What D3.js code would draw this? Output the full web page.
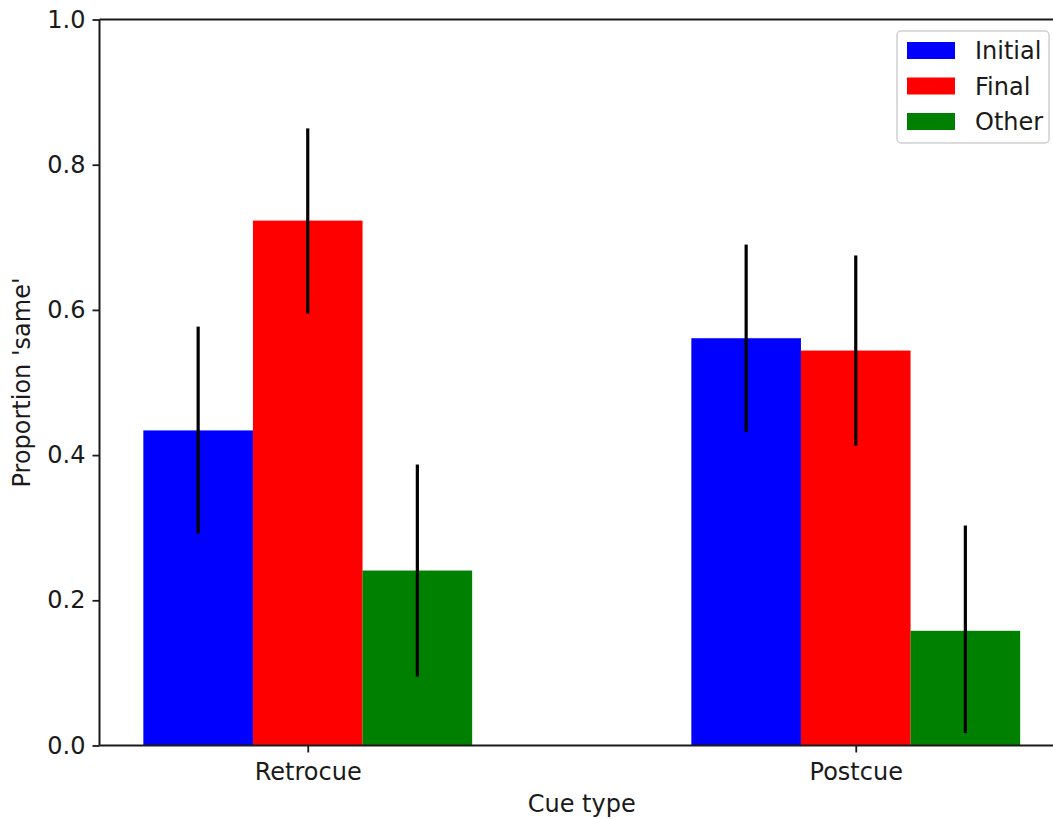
<!DOCTYPE html>
<html>
<head>
<meta charset="utf-8">
<script src="https://cdn.jsdelivr.net/npm/d3@7"></script>
<style>
  body { margin: 0; background: #fff; }
  text { font-family: "DejaVu Sans", sans-serif; fill: #1a1a1a; }
</style>
</head>
<body>
<div id="chart"></div>
<script>
// data
var cueTypes = ["Retrocue", "Postcue"];
var seriesNames = ["Initial", "Final", "Other"];
var seriesColors = ["#0000ff", "#ff0000", "#008000"];
var initialVals = [0.434, 0.561];
var finalVals = [0.723, 0.544];
var otherVals = [0.241, 0.158];
var initialErr = [[0.292, 0.577], [0.432, 0.690]];
var finalErr = [[0.595, 0.850], [0.413, 0.675]];
var otherErr = [[0.095, 0.387], [0.017, 0.303]];
var yTicks = [0, 0.2, 0.4, 0.6, 0.8, 1.0];

var width = 1053, height = 819;
var plotLeft = 99.5, plotTop = 19.5, plotBottom = 745.5;
var fontSize = 24;

var svg = d3.select("#chart").append("svg")
    .attr("width", width)
    .attr("height", height);

// x in data units, matplotlib-style: groups at 0,1, bar width 0.2
var x = d3.scaleLinear().domain([-0.38, 1.38]).range([plotLeft, 1064]);
var y = d3.scaleLinear().domain([0, 1]).range([plotBottom, plotTop]);

var vals = [initialVals, finalVals, otherVals];
var errs = [initialErr, finalErr, otherErr];
var barW = 0.2;

var bars = [];
seriesNames.forEach(function(s, si) {
    cueTypes.forEach(function(c, ci) {
        bars.push({ s: si, c: ci, v: vals[si][ci], e: errs[si][ci], xc: ci + (si - 1) * barW });
    });
});

svg.append("g").selectAll("rect")
    .data(bars).enter()
    .append("rect")
    .attr("x", function(d) { return x(d.xc - barW / 2); })
    .attr("width", function(d) { return x(barW) - x(0); })
    .attr("y", function(d) { return y(d.v); })
    .attr("height", function(d) { return y(0) - y(d.v); })
    .attr("fill", function(d) { return seriesColors[d.s]; });

svg.append("g").selectAll("line")
    .data(bars).enter()
    .append("line")
    .attr("x1", function(d) { return x(d.xc); })
    .attr("x2", function(d) { return x(d.xc); })
    .attr("y1", function(d) { return y(d.e[0]); })
    .attr("y2", function(d) { return y(d.e[1]); })
    .attr("stroke", "#000")
    .attr("stroke-width", 3.2);

// axes
var yAxis = svg.append("g")
    .attr("transform", "translate(" + plotLeft + ",0)")
    .call(d3.axisLeft(y).tickValues(yTicks).tickSize(7).tickPadding(7)
        .tickFormat(d3.format(".1f")));
var xAxis = svg.append("g")
    .attr("transform", "translate(0," + plotBottom + ")")
    .call(d3.axisBottom(x).tickValues([0, 1]).tickSize(7).tickPadding(10)
        .tickFormat(function(d) { return cueTypes[d]; }));

[yAxis, xAxis].forEach(function(a) {
    a.select(".domain").remove();
    a.selectAll("line").attr("stroke", "#1a1a1a").attr("stroke-width", 1.8);
    a.selectAll("text").attr("font-size", fontSize).attr("font-family", "DejaVu Sans").attr("fill", "#1a1a1a");
});

// spines
var spines = svg.append("g").attr("stroke", "#1a1a1a").attr("stroke-width", 2);
spines.append("line").attr("x1", plotLeft).attr("x2", plotLeft).attr("y1", plotTop).attr("y2", plotBottom);
spines.append("line").attr("x1", plotLeft).attr("x2", width).attr("y1", plotBottom).attr("y2", plotBottom);
spines.append("line").attr("x1", plotLeft).attr("x2", width).attr("y1", plotTop).attr("y2", plotTop);

// axis titles
svg.append("text")
    .attr("x", x(0.5))
    .attr("y", 812)
    .attr("text-anchor", "middle")
    .attr("font-size", fontSize)
    .text("Cue type");
svg.append("text")
    .attr("transform", "translate(30," + y(0.5) + ") rotate(-90)")
    .attr("text-anchor", "middle")
    .attr("font-size", fontSize)
    .text("Proportion 'same'");

// legend
var legend = svg.append("g").attr("transform", "translate(897,31)");
legend.append("rect")
    .attr("width", 152).attr("height", 112)
    .attr("rx", 4)
    .attr("fill", "#fff")
    .attr("stroke", "#d0d0d0")
    .attr("stroke-width", 1.5);
var items = legend.selectAll("g.item")
    .data(seriesNames).enter()
    .append("g")
    .attr("class", "item")
    .attr("transform", function(d, i) { return "translate(0," + (11 + i * 35.5) + ")"; });
items.append("rect")
    .attr("x", 10).attr("width", 48).attr("height", 17)
    .attr("fill", function(d, i) { return seriesColors[i]; });
items.append("text")
    .attr("x", 78).attr("y", 17)
    .attr("font-size", fontSize)
    .text(function(d) { return d; });
</script>
</body>
</html>
